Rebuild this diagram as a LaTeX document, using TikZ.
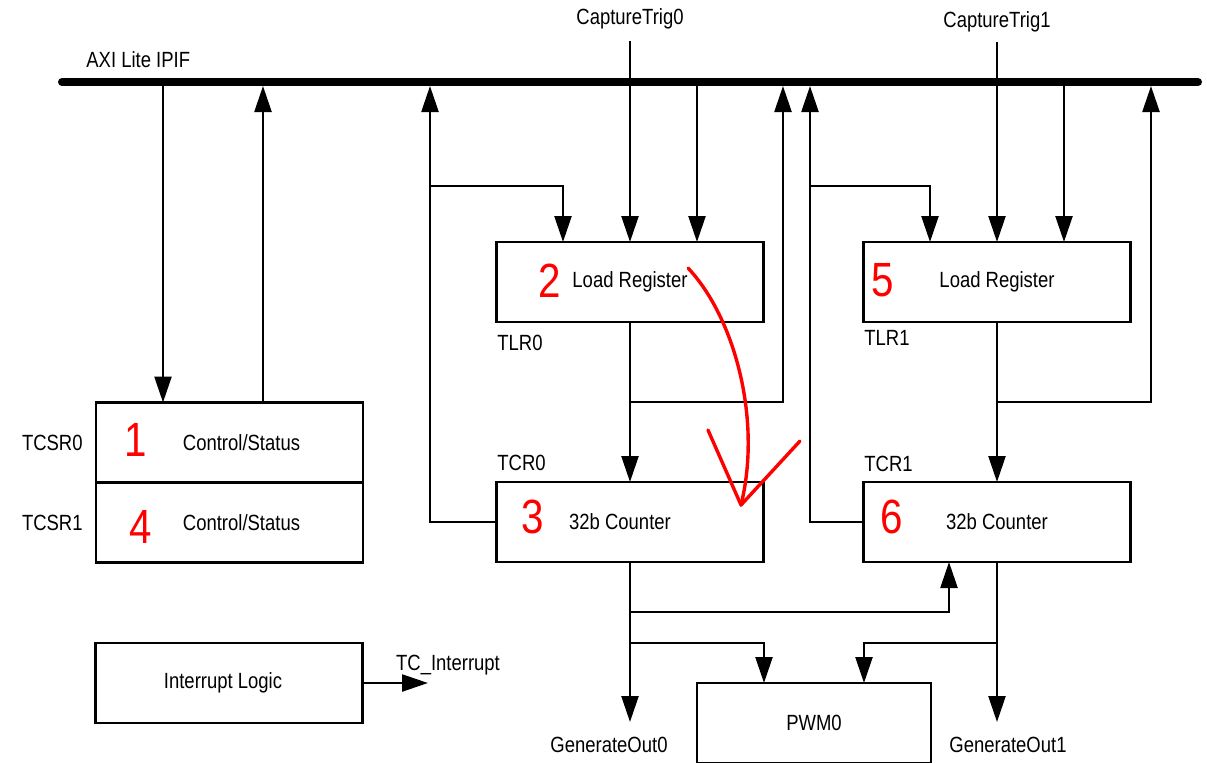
\documentclass[tikz,border=0pt]{standalone}
\usepackage{fontspec}
\setmainfont[FakeStretch=0.84]{Liberation Sans}
\usetikzlibrary{arrows.meta,positioning}

\begin{document}
\begin{tikzpicture}[x=0.5pt,y=-0.5pt,>={Triangle[length=13pt,width=8.5pt]},
  box/.style={draw,line width=1.2pt,minimum width=133.5pt,minimum height=40pt,
    inner sep=0pt,outer sep=0pt,font=\fontsize{11}{13}\selectfont},
  lbl/.style={inner sep=0pt,font=\fontsize{11}{13}\selectfont},
  sig/.style={line width=1.2pt},
  hand/.style={text=red,inner sep=0pt,font=\fontsize{24}{26}\selectfont},
  ink/.style={red,line width=1.7pt,line cap=round,line join=round}]
\useasboundingbox (0,0) rectangle (1207,762);

% bus
\coordinate (busL) at (62,82);
\coordinate (busR) at (1198,82);
\draw[line width=4pt,line cap=round] (busL) -- (busR);
\node[lbl,anchor=west] (axi) at (86,60) {AXI Lite IPIF};

% bus taps
\coordinate (tapa) at (163,82);
\coordinate (tapd) at (697,82);
\coordinate (tapg) at (1064,82);
\coordinate (upb) at (263,86);
\coordinate (upc) at (430,86);
\coordinate (upe) at (783,86);
\coordinate (upf) at (810,86);
\coordinate (uph) at (1151,86);

% blocks
\node[box,label={[lbl,xshift=6pt]center:Control/Status}] (tcsr0) at (229.5,442.5) {};
\node[box,below=0pt of tcsr0,label={[lbl,xshift=6pt]center:Control/Status}] (tcsr1) {};
\node[box,label={[lbl,xshift=-3pt]center:Interrupt Logic}] (intr) at (229,683) {};
\node[box] (tlr0) at (630,282) {Load Register};
\node[box,label={[lbl,xshift=-5pt]center:32b Counter}] (tcr0) at (630,522) {};
\node[box] (tlr1) at (997,282) {Load Register};
\node[box] (tcr1) at (997,522) {32b Counter};
\node[box,minimum width=117pt] (pwm) at (814,723) {PWM0};

% register names
\node[lbl,left=6.5pt of tcsr0] (ntcsr0) {TCSR0};
\node[lbl,left=6.5pt of tcsr1] (ntcsr1) {TCSR1};
\node[lbl,anchor=west] (ntlr0) at (497,343) {TLR0};
\node[lbl,anchor=west] (ntcr0) at (497,463) {TCR0};
\node[lbl,anchor=west] (ntlr1) at (864,338) {TLR1};
\node[lbl,anchor=west] (ntcr1) at (864,464) {TCR1};

% capture inputs
\node[lbl] (ct0) at (630,19) {CaptureTrig0};
\node[lbl] (ct1) at (997,22) {CaptureTrig1};
\coordinate (trig0) at (630,41);
\coordinate (trig1) at (997,42);
\draw[sig,->] (trig0) -- (trig0 |- tlr0.north);
\draw[sig,->] (trig1) -- (trig1 |- tlr1.north);

% control/status
\draw[sig,->] (tapa) -- (tapa |- tcsr0.north);
\draw[sig,->] (tcsr0.north -| upb) -- (upb);

% timer 0
\coordinate (brc) at (430,186);
\coordinate (fb0) at (630,402);
\draw[sig,->] (tcr0.west) -| (upc);
\draw[sig,->] (brc) -| ([xshift=-33.5pt]tlr0.north);
\draw[sig,->] (tapd) -- (tapd |- tlr0.north);
\draw[sig,->] (tlr0) -- (tcr0);
\draw[sig,->] (fb0) -| (upe);

% timer 1
\coordinate (brf) at (810,186);
\coordinate (fb1) at (997,402);
\draw[sig,->] (tcr1.west) -| (upf);
\draw[sig,->] (brf) -| ([xshift=-33.5pt]tlr1.north);
\draw[sig,->] (tapg) -- (tapg |- tlr1.north);
\draw[sig,->] (tlr1) -- (tcr1);
\draw[sig,->] (fb1) -| (uph);

% outputs
\coordinate (go0) at (630,722);
\coordinate (go1) at (997,722);
\coordinate (x0) at (630,612);
\coordinate (p0) at (630,643);
\coordinate (p1) at (997,643);
\draw[sig,->] (tcr0) -- (go0);
\draw[sig,->] (tcr1) -- (go1);
\draw[sig,->] (x0) -| ([xshift=-24pt]tcr1.south);
\draw[sig,->] (p0) -| ([xshift=-25pt]pwm.north);
\draw[sig,->] (p1) -| ([xshift=25pt]pwm.north);
\node[lbl] (gout0) at (609,745) {GenerateOut0};
\node[lbl] (gout1) at (1008,745) {GenerateOut1};

% interrupt
\coordinate (tcint) at (428,683);
\draw[sig,->] (intr.east) -- (tcint);
\node[lbl] (ntcint) at (448,665) {TC\_Interrupt};

% handwritten marks
\node[hand] (m1) at (136,440) {1};
\node[hand] (m2) at (550,281) {2};
\node[hand] (m3) at (533,517) {3};
\node[hand] (m4) at (141,527) {4};
\node[hand] (m5) at (883,280) {5};
\node[hand] (m6) at (892,517) {6};
\draw[ink] (688,268) .. controls (735,318) and (762,420) .. (741,505);
\draw[ink] (708,430) -- (741,505) -- (800,441);
\end{tikzpicture}
\end{document}
